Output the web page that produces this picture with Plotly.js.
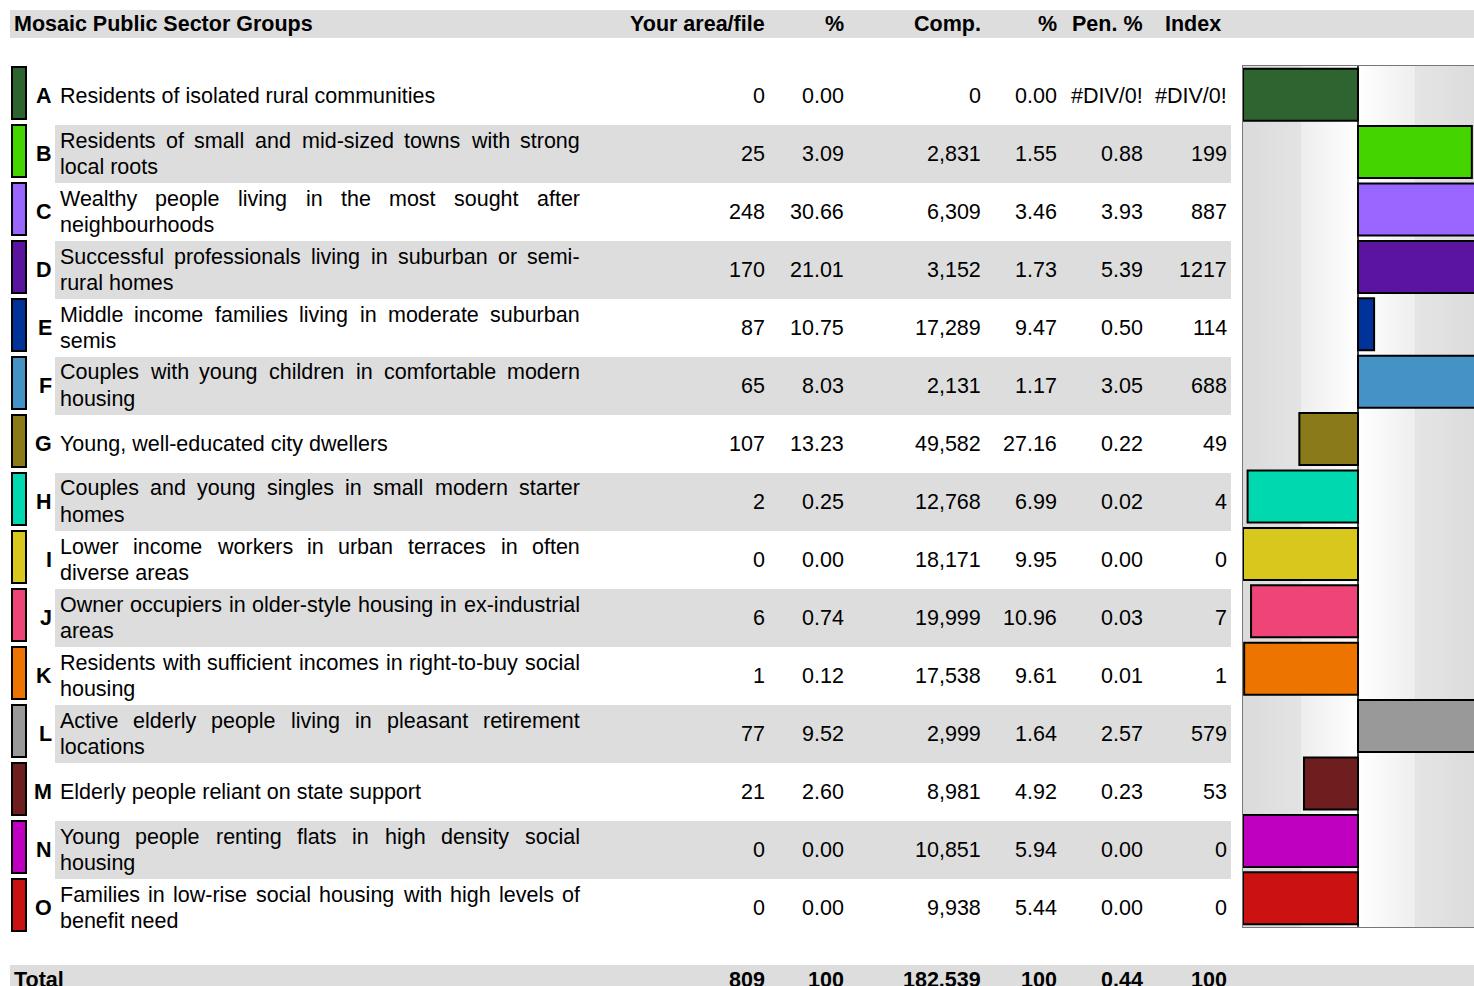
<!DOCTYPE html>
<html><head><meta charset="utf-8">
<script src="https://cdn.plot.ly/plotly-3.0.1.min.js"></script>
<style>html,body{margin:0;padding:0;background:#fff;overflow:hidden}</style>
</head><body><div id="chart" style="width:1474px;height:986px"></div>
<script>
// ---------- DATA ----------
const title = "Mosaic Public Sector Groups";
const headers = ["Your area/file", "%", "Comp.", "%", "Pen. %", "Index"];
const codes = ["A","B","C","D","E","F","G","H","I","J","K","L","M","N","O"];
const descLines = [
  ["Residents of isolated rural communities"],
  ["Residents of small and mid-sized towns with strong", "local roots"],
  ["Wealthy people living in the most sought after", "neighbourhoods"],
  ["Successful professionals living in suburban or semi-", "rural homes"],
  ["Middle income families living in moderate suburban", "semis"],
  ["Couples with young children in comfortable modern", "housing"],
  ["Young, well-educated city dwellers"],
  ["Couples and young singles in small modern starter", "homes"],
  ["Lower income workers in urban terraces in often", "diverse areas"],
  ["Owner occupiers in older-style housing in ex-industrial", "areas"],
  ["Residents with sufficient incomes in right-to-buy social", "housing"],
  ["Active elderly people living in pleasant retirement", "locations"],
  ["Elderly people reliant on state support"],
  ["Young people renting flats in high density social", "housing"],
  ["Families in low-rise social housing with high levels of", "benefit need"]
];
const yourArea = [0, 25, 248, 170, 87, 65, 107, 2, 0, 6, 1, 77, 21, 0, 0];
const yourPct  = [0.00, 3.09, 30.66, 21.01, 10.75, 8.03, 13.23, 0.25, 0.00, 0.74, 0.12, 9.52, 2.60, 0.00, 0.00];
const comp     = [0, 2831, 6309, 3152, 17289, 2131, 49582, 12768, 18171, 19999, 17538, 2999, 8981, 10851, 9938];
const compPct  = [0.00, 1.55, 3.46, 1.73, 9.47, 1.17, 27.16, 6.99, 9.95, 10.96, 9.61, 1.64, 4.92, 5.94, 5.44];
const penPct   = ["#DIV/0!", 0.88, 3.93, 5.39, 0.50, 3.05, 0.22, 0.02, 0.00, 0.03, 0.01, 2.57, 0.23, 0.00, 0.00];
const indexVal = ["#DIV/0!", 199, 887, 1217, 114, 688, 49, 4, 0, 7, 1, 579, 53, 0, 0];
const totals   = {yourArea: 809, yourPct: "100", comp: 182539, compPct: "100", pen: "0.44", index: "100"};
const colors = ["#2e6430","#44d400","#9966ff","#5a14a0","#003399","#4592c6","#8a7a1a",
                "#00d8b0","#d8c81e","#ee4478","#ee7400","#999999","#6e1e1e","#c000c0","#cc1111"];

// ---------- LAYOUT HELPERS ----------
const W = 1474, H = 986;
const FONT = '"Liberation Sans", Arial, sans-serif';
const FS = 21.5;
const px = x => x / W;
const py = y => 1 - y / H;
const fmtInt = n => n.toString().replace(/\B(?=(\d{3})+(?!\d))/g, ",");
const fmt2 = v => typeof v === "number" ? v.toFixed(2) : v;
const fmtIdx = v => typeof v === "number" ? String(v) : v;

const ann = [], shapes = [];
function txt(x, y, t, anchor, bold) {
  ann.push({xref:'paper', yref:'paper', x:px(x), y:py(y),
    text: bold ? '<b>' + t + '</b>' : t,
    xanchor: anchor, yanchor:'middle', showarrow:false, borderpad:0, borderwidth:0,
    font:{family:FONT, size:FS, color:'#000'}});
}
function rect(x0, y0, x1, y1, fill, lw) {
  shapes.push({type:'rect', xref:'paper', yref:'paper', x0:px(x0), x1:px(x1), y0:py(y0), y1:py(y1),
    fillcolor:fill, line:{width:lw||0, color:'#000'}, layer:'below'});
}

const ctx = document.createElement('canvas').getContext('2d');
ctx.font = FS + 'px "Liberation Sans"';
function justified(line, y, x0, x1) {
  const words = line.split(' ');
  const ws = words.map(w => ctx.measureText(w).width);
  const sum = ws.reduce((a, b) => a + b, 0);
  const gap = words.length > 1 ? (x1 - x0 - sum) / (words.length - 1) : 0;
  let x = x0;
  words.forEach((w, k) => { txt(x, y, w, 'left'); x += ws[k] + gap; });
}

// header
rect(10, 10, W + 2, 38, '#dddddd');
txt(14, 24, title, 'left', true);
const colRight = [765, 844, 981, 1057, 1143, 1227];
const headRight = [765, 844, 981, 1057, 1143, 1221];
headers.forEach((h, k) => txt(headRight[k], 24, h, 'right', true));

// rows
const ROW0 = 67, PITCH = 58;
codes.forEach((c, i) => {
  const top = ROW0 + PITCH * i, cy = top + 29;
  if (i % 2 === 1) rect(55, top, 1231, top + PITCH, '#dddddd');
  shapes.push({type:'rect', xref:'paper', yref:'paper', x0:px(12), x1:px(26), y0:py(top), y1:py(top + 52),
    fillcolor:colors[i], line:{width:2, color:'#000'}, layer:'above'});
  txt(51.5, cy, c, 'right', true);
  const L = descLines[i];
  if (L.length === 1) {
    txt(59.5, cy, L[0], 'left');
  } else {
    justified(L[0], cy - 13.5, 59.5, 580);
    txt(59.5, cy + 13, L[1], 'left');
  }
  txt(colRight[0], cy, String(yourArea[i]), 'right');
  txt(colRight[1], cy, fmt2(yourPct[i]), 'right');
  txt(colRight[2], cy, fmtInt(comp[i]), 'right');
  txt(colRight[3], cy, fmt2(compPct[i]), 'right');
  txt(colRight[4], cy, fmt2(penPct[i]), 'right');
  txt(colRight[5], cy, fmtIdx(indexVal[i]), 'right');
});

// total row (cut by the bottom edge, as in the reference)
rect(10, 965, W + 2, H + 5, '#dddddd');
const TY = 979.5;
txt(14, TY, 'Total', 'left', true);
txt(colRight[0], TY, String(totals.yourArea), 'right', true);
txt(colRight[1], TY, totals.yourPct, 'right', true);
txt(colRight[2], TY, fmtInt(totals.comp), 'right', true);
txt(colRight[3], TY, totals.compPct, 'right', true);
txt(colRight[4], TY, totals.pen, 'right', true);
txt(colRight[5], TY, totals.index, 'right', true);

// chart background: gradient image (styling only)
const XMAX = 200.87, PXU = 1.15;
const yd0 = py(927), yd1 = py(66);
const gw = Math.round(XMAX * PXU), gc = document.createElement('canvas');
gc.width = gw; gc.height = 4;
const g = gc.getContext('2d');
for (let i = 0; i < gw; i++) {
  const u = (i + 0.5) / PXU;
  let v;
  if (u < 50) v = 219 + (227 - 219) * (u / 50);
  else if (u < 100) v = 237 + (255 - 237) * ((u - 50) / 50);
  else if (u < 150) v = 255 - (255 - 238) * ((u - 100) / 50);
  else v = 229 - (229 - 220) * ((u - 150) / (XMAX - 150));
  if (Math.abs(u - 50) < 0.45 || Math.abs(u - 150) < 0.45) v = 226;
  v = Math.round(v);
  g.fillStyle = 'rgb(' + v + ',' + v + ',' + v + ')';
  g.fillRect(i, 0, 1, 4);
}
const bgImage = {source: gc.toDataURL('image/png'), xref:'x', yref:'paper', x:0, y:yd1,
  sizex:XMAX, sizey:yd1 - yd0, sizing:'stretch', xanchor:'left', yanchor:'top', layer:'below'};
shapes.push({type:'line', xref:'x', yref:'paper', x0:100, x1:100, y0:yd0, y1:yd1,
  line:{color:'#000', width:1.5}, layer:'above'});

// bars: index relative to 100 (error values plotted as 0)
const barVals = indexVal.map(v => typeof v === "number" ? v : 0);
const trace = {
  type:'bar', orientation:'h', y:codes, x:barVals.map(v => v - 100), base:100,
  marker:{color:colors, line:{color:'#000', width:2}}, hoverinfo:'skip'
};

const layout = {
  width:W, height:H, margin:{l:0, r:0, t:0, b:0},
  paper_bgcolor:'#fff', plot_bgcolor:'rgba(0,0,0,0)', showlegend:false,
  bargap:0.094,
  xaxis:{domain:[1243 / W, 1], range:[0, XMAX], showgrid:false, zeroline:false, showticklabels:false,
    ticks:'', showline:true, linecolor:'#777', linewidth:1, mirror:true, fixedrange:true},
  yaxis:{domain:[yd0, yd1], type:'category', categoryorder:'array', categoryarray:codes, autorange:'reversed',
    showgrid:false, zeroline:false, showticklabels:false, ticks:'', showline:true, linecolor:'#777',
    linewidth:1, mirror:true, fixedrange:true},
  images:[bgImage], shapes:shapes, annotations:ann
};
Plotly.newPlot('chart', [trace], layout, {displayModeBar:false, staticPlot:true});
</script></body></html>
